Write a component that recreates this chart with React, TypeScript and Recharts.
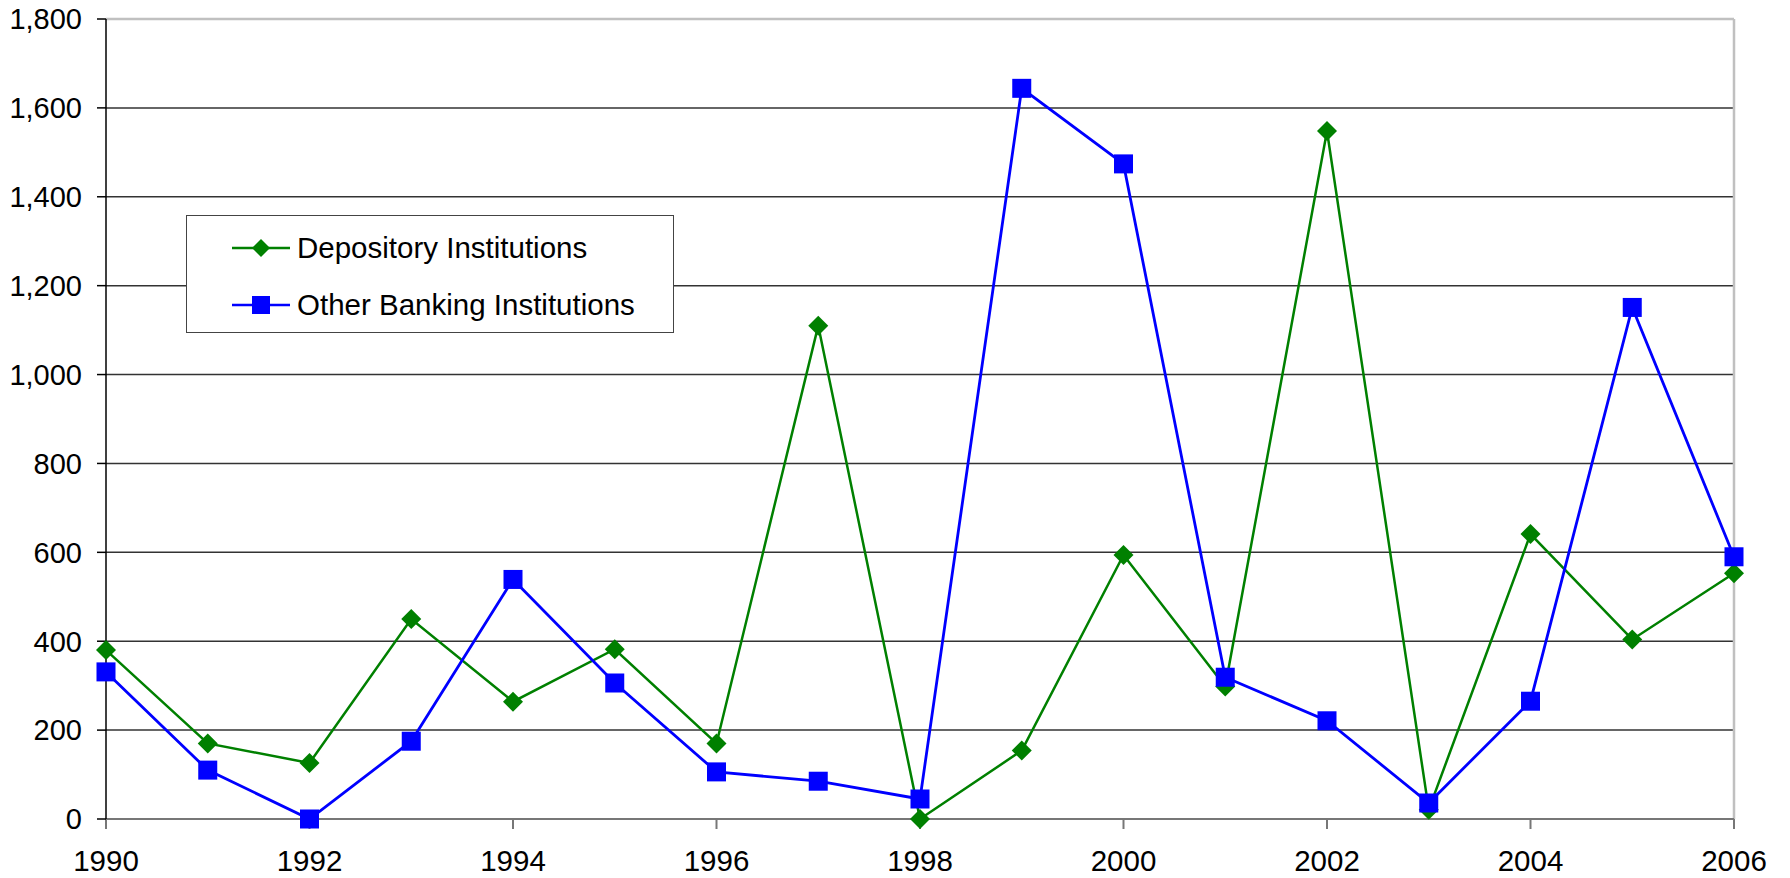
import React from "react";
import {
  LineChart,
  Line,
  XAxis,
  YAxis,
  CartesianGrid,
  ReferenceLine,
} from "recharts";

const years = [
  1990, 1991, 1992, 1993, 1994, 1995, 1996, 1997, 1998, 1999, 2000, 2001, 2002,
  2003, 2004, 2005, 2006,
];
const depository = [
  380, 170, 126, 450, 264, 382, 170, 1110, 0, 154, 594, 298, 1548, 21, 641, 404,
  553,
];
const otherBanking = [
  331, 110, 0, 175, 539, 306, 106, 85, 45, 1644, 1474, 319, 221, 36, 265, 1151,
  590,
];
const xTicks = [1990, 1992, 1994, 1996, 1998, 2000, 2002, 2004, 2006];
const yTicks = [0, 200, 400, 600, 800, 1000, 1200, 1400, 1600, 1800];

const GREEN = "#008000";
const BLUE = "#0000ff";
const FONT = '"Liberation Sans", Arial, Helvetica, sans-serif';

const data = years.map((y, i) => ({
  year: y,
  depository: depository[i],
  other: otherBanking[i],
}));

const Diamond = (props: any) => {
  const { cx, cy, index } = props;
  if (cx == null || cy == null) return <g key={`d-${index}`} />;
  const r = 10;
  return (
    <path
      key={`d-${index}`}
      d={`M${cx},${cy - r}L${cx + r},${cy}L${cx},${cy + r}L${cx - r},${cy}Z`}
      fill={GREEN}
    />
  );
};

const Square = (props: any) => {
  const { cx, cy, index } = props;
  if (cx == null || cy == null) return <g key={`s-${index}`} />;
  const h = 9.5;
  return (
    <rect key={`s-${index}`} x={cx - h} y={cy - h} width={h * 2} height={h * 2} fill={BLUE} />
  );
};

const LegendBox = () => {
  const rows = [
    { label: "Depository Institutions", color: GREEN, shape: "diamond" },
    { label: "Other Banking Institutions", color: BLUE, shape: "square" },
  ];
  return (
    <div
      style={{
        position: "absolute",
        left: 186,
        top: 215,
        width: 486,
        height: 116,
        border: "1px solid #444",
        background: "#fff",
        fontFamily: FONT,
      }}
    >
      {rows.map((r, i) => (
        <div
          key={r.label}
          style={{
            position: "absolute",
            left: 44,
            top: i === 0 ? 14 : 71,
            height: 36,
            display: "flex",
            alignItems: "center",
          }}
        >
          <svg width={60} height={36}>
            <line x1={1} y1={18} x2={59} y2={18} stroke={r.color} strokeWidth={2.5} />
            {r.shape === "diamond" ? (
              <path d="M30,9L39,18L30,27L21,18Z" fill={r.color} />
            ) : (
              <rect x={21} y={9} width={18} height={18} fill={r.color} />
            )}
          </svg>
          <span style={{ fontSize: 29.5, color: "#000", marginLeft: 6 }}>{r.label}</span>
        </div>
      ))}
    </div>
  );
};

export default function App() {
  return (
    <div style={{ position: "absolute", left: 0, top: 0, width: 1790, height: 878, background: "#fff" }}>
      <LineChart
        width={1790}
        height={878}
        data={data}
        margin={{ top: 19, right: 56, bottom: 0, left: 0 }}
      >
        <CartesianGrid stroke="#333" strokeWidth={1.5} vertical={false} />
        <XAxis
          dataKey="year"
          type="number"
          domain={[1990, 2006]}
          ticks={xTicks}
          height={59}
          tickSize={10}
          tickMargin={21}
          interval={0}
          stroke="#777"
          strokeWidth={2}
          tick={{ fill: "#000", fontSize: 29.5, fontFamily: FONT }}
        />
        <YAxis
          type="number"
          domain={[0, 1800]}
          ticks={yTicks}
          width={106}
          tickSize={9}
          tickMargin={15}
          interval={0}
          stroke="#000"
          strokeWidth={1.5}
          tickFormatter={(v: number) => v.toLocaleString("en-US")}
          tick={{ fill: "#000", fontSize: 29, fontFamily: FONT }}
        />
        <ReferenceLine y={1800} stroke="#c0c0c0" strokeWidth={2.5} />
        <ReferenceLine x={2006} stroke="#c0c0c0" strokeWidth={2.5} />
        <Line
          dataKey="depository"
          name="Depository Institutions"
          stroke={GREEN}
          strokeWidth={2.5}
          dot={Diamond}
          activeDot={false}
          isAnimationActive={false}
        />
        <Line
          dataKey="other"
          name="Other Banking Institutions"
          stroke={BLUE}
          strokeWidth={2.8}
          dot={Square}
          activeDot={false}
          isAnimationActive={false}
        />
      </LineChart>
      <LegendBox />
    </div>
  );
}
